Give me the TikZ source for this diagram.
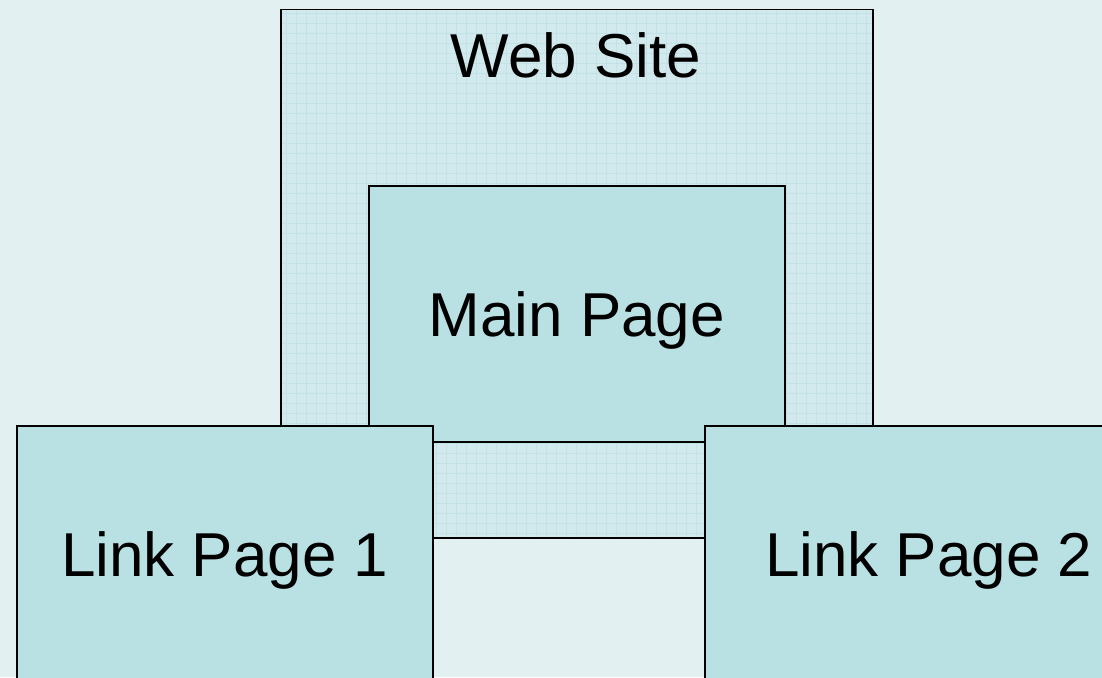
\documentclass[tikz,border=0pt]{standalone}
\usepackage{fontspec}
\setmainfont{Liberation Sans}
\definecolor{bgcol}{HTML}{E2F0F1}
\definecolor{sitecol}{HTML}{D2EAED}
\definecolor{gridcol}{HTML}{C3E2E5}
\definecolor{pagecol}{HTML}{B9E0E3}
\tikzset{
  bigtext/.style={font=\fontsize{62}{74}\selectfont, text=black},
  pagebox/.style={draw=black, line width=1.5pt, fill=pagecol, inner sep=0pt,
    minimum width=416pt, minimum height=256pt, anchor=north west, bigtext,
    text depth=0pt},
  sitebox/.style={draw=black, line width=1.5pt, fill=sitecol, inner sep=0pt,
    minimum width=592pt, minimum height=528pt, anchor=north west,
    path picture={\draw[gridcol, line width=0.6pt, step=10pt]
      ([xshift=-0.01pt]path picture bounding box.south west) grid (path picture bounding box.north east);}},
}
\begin{document}
\begin{tikzpicture}[x=1pt,y=-1pt]
\useasboundingbox (0,0) rectangle (1102,677);
\clip (0,0) rectangle (1102,677);
\fill[bgcol] (0,0) rectangle (1102,677);
\node[sitebox] (site) at (280,9) {};
\node[bigtext] (sitelabel) at (576,55) {Web Site};
\node[pagebox] (main) at (368,185) {Main Page};
\node[pagebox] (link1) at (16,425) {Link Page 1};
\node[pagebox, minimum width=448pt] (link2) at (704,425) {Link Page 2};
\end{tikzpicture}
\end{document}
